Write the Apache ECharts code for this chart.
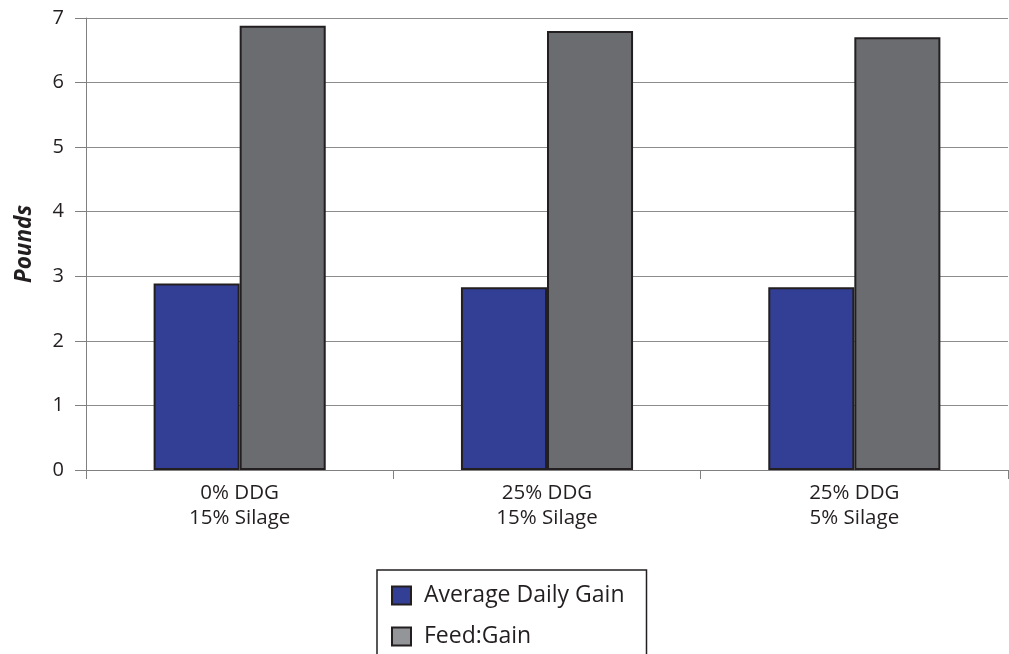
<!DOCTYPE html>
<html><head><meta charset="utf-8">
<script src="https://cdn.jsdelivr.net/npm/echarts@6/dist/echarts.min.js"></script>
<style>html,body{margin:0;padding:0;background:#fff}#c{width:1009px;height:654px}</style>
</head><body><div id="c"></div>
<script>
const categories = ['0% DDG\n15% Silage', '25% DDG\n15% Silage', '25% DDG\n5% Silage'];
const adg = [2.89, 2.83, 2.83];
const feedGain = [6.88, 6.80, 6.70];
const seriesNames = ['Average Daily Gain', 'Feed:Gain'];
const yTicks = [0, 7, 1];

const chart = echarts.init(document.getElementById('c'));
const font = '"Open Sans", "Noto Sans", sans-serif';
chart.setOption({
  animation: false,
  grid: {left: 86, right: 1, top: 18, bottom: 184},
  xAxis: {
    type: 'category', data: categories,
    axisLine: {lineStyle: {color: '#808080', width: 1}},
    axisTick: {show: true, length: 9, lineStyle: {color: '#808080'}},
    axisLabel: {color: '#231f20', fontSize: 20.5, fontFamily: font, lineHeight: 25, margin: 11}
  },
  yAxis: {
    type: 'value', min: yTicks[0], max: yTicks[1], interval: yTicks[2],
    name: 'Pounds', nameLocation: 'middle', nameGap: 50, nameRotate: 90,
    nameTextStyle: {fontSize: 22.5, fontWeight: 'bold', fontStyle: 'italic', color: '#231f20', fontFamily: font},
    axisLine: {show: true, lineStyle: {color: '#808080'}},
    axisTick: {show: true, length: 11, lineStyle: {color: '#808080'}},
    axisLabel: {color: '#231f20', fontSize: 20, fontFamily: font, margin: 22},
    splitLine: {lineStyle: {color: '#8c8c8c', width: 1}}
  },
  legend: {
    orient: 'vertical', left: 377, top: 570, height: 200,
    itemWidth: 19, itemHeight: 18, itemGap: 18,
    padding: [14, 22, 14, 14],
    borderColor: '#231f20', borderWidth: 1.5, borderRadius: 0,
    textStyle: {fontSize: 23, color: '#231f20', fontFamily: font, padding: [0, 0, 0, 8]},
    data: [
      {name: seriesNames[0], icon: 'rect', itemStyle: {color: '#333f94', borderColor: '#231f20', borderWidth: 2}},
      {name: seriesNames[1], icon: 'rect', itemStyle: {color: '#939598', borderColor: '#231f20', borderWidth: 2}}
    ]
  },
  series: [
    {name: seriesNames[0], type: 'bar', data: adg, barGap: '0%', barCategoryGap: '44%',
     itemStyle: {color: '#333f94', borderColor: '#231f20', borderWidth: 2}},
    {name: seriesNames[1], type: 'bar', data: feedGain,
     itemStyle: {color: '#6b6c70', borderColor: '#231f20', borderWidth: 2}}
  ]
});
</script></body></html>
